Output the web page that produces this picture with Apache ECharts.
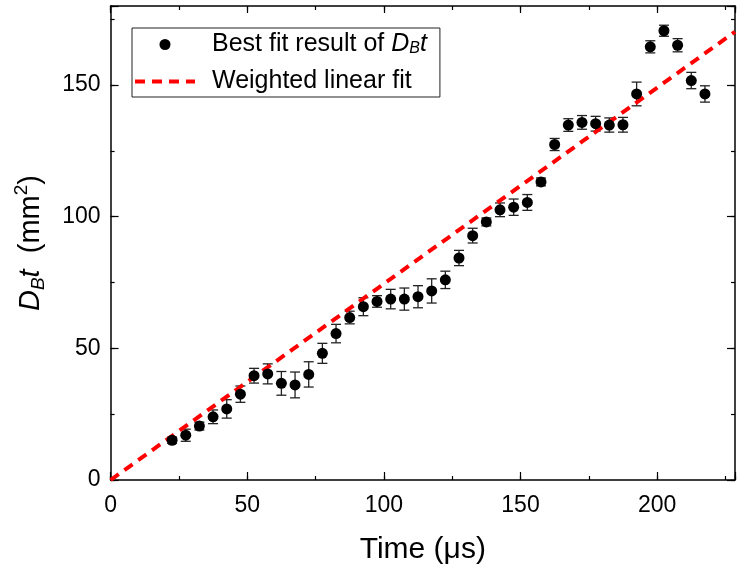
<!DOCTYPE html>
<html>
<head>
<meta charset="utf-8">
<script src="https://cdn.jsdelivr.net/npm/echarts@6/dist/echarts.min.js"></script>
<style>
html,body{margin:0;padding:0;background:#fff;}
#chart{width:738px;height:570px;}
</style>
</head>
<body>
<div id="chart"></div>
<script>
// ---- data ----
const timeUs = [22.5, 27.5, 32.5, 37.5, 42.5, 47.5, 52.5, 57.5, 62.5, 67.5,
                72.5, 77.5, 82.5, 87.5, 92.5, 97.5, 102.5, 107.5, 112.5, 117.5,
                122.5, 127.5, 132.5, 137.5, 142.5, 147.5, 152.5, 157.5, 162.5, 167.5,
                172.5, 177.5, 182.5, 187.5, 192.5, 197.5, 202.5, 207.5, 212.5, 217.5];
const dbt = [15.1, 17.0, 20.5, 24.0, 27.0, 32.6, 39.6, 40.3, 36.7, 36.1,
             40.1, 48.1, 55.6, 61.7, 65.8, 67.8, 68.7, 68.7, 69.6, 71.8,
             76.0, 84.3, 92.8, 98.0, 102.6, 103.6, 105.4, 113.2, 127.4, 134.8,
             135.8, 135.3, 134.8, 134.9, 146.6, 164.5, 170.6, 165.1, 151.7, 146.6];
const dbtErr = [1.2, 2.3, 1.5, 2.6, 3.5, 3.1, 2.8, 3.8, 4.5, 4.9,
                4.8, 3.8, 3.5, 2.4, 3.4, 2.2, 3.7, 4.2, 4.2, 4.6,
                3.3, 2.9, 2.8, 1.5, 2.6, 3.1, 3.0, 1.5, 2.3, 2.4,
                2.6, 2.8, 2.7, 2.8, 4.5, 2.3, 2.1, 2.5, 3.1, 3.1];
const fitX = [0, 228.5];
const fitY = [0, 170.2];
const xTicksMajor = [0, 50, 100, 150, 200];
const yTicksMajor = [0, 50, 100, 150];
const seriesNames = ['Best fit result of D_B t', 'Weighted linear fit'];

// ---- chart ----
const FONT = '"Liberation Sans", Arial, Helvetica, sans-serif';
const chart = echarts.init(document.getElementById('chart'), null, {renderer: 'canvas'});

const scatterData = timeUs.map((x, i) => [x, dbt[i]]);
const errData = timeUs.map((x, i) => [x, dbt[i], dbtErr[i]]);
const fitData = fitX.map((x, i) => [x, fitY[i]]);

const XMAX = 228.5, YMAX = 180;

function mkLine(show) {
  return {show: show, onZero: false, lineStyle: {color: '#000', width: 1.5}};
}
function xAx(pos, interval, len, labels, showLine, extra) {
  return Object.assign({
    type: 'value', position: pos, min: 0, max: XMAX, interval: interval,
    axisLine: mkLine(showLine),
    axisTick: {show: true, inside: true, length: len, lineStyle: {color: '#000', width: 1.2}},
    axisLabel: labels ? {
      show: true, fontSize: 23, color: '#000', fontFamily: FONT, margin: 14,
      formatter: v => (xTicksMajor.indexOf(v) >= 0 ? String(v) : '')
    } : {show: false},
    splitLine: {show: false}
  }, extra || {});
}
function yAx(pos, interval, len, labels, showLine, extra) {
  return Object.assign({
    type: 'value', position: pos, min: 0, max: YMAX, interval: interval,
    axisLine: mkLine(showLine),
    axisTick: {show: true, inside: true, length: len, lineStyle: {color: '#000', width: 1.2}},
    axisLabel: labels ? {
      show: true, fontSize: 23, color: '#000', fontFamily: FONT, margin: 10,
      formatter: v => (yTicksMajor.indexOf(v) >= 0 ? String(v) : '')
    } : {show: false},
    splitLine: {show: false}
  }, extra || {});
}

const richLegend = {
  n: {fontSize: 25, fontFamily: FONT, color: '#000'},
  i: {fontSize: 25, fontFamily: FONT, fontStyle: 'italic', color: '#000'},
  sub: {fontSize: 16, fontFamily: FONT, fontStyle: 'italic', color: '#000', lineHeight: 12, verticalAlign: 'bottom'}
};

const option = {
  backgroundColor: '#fff',
  animation: false,
  grid: {left: 110.6, top: 6, width: 630, bottom: 87.5, containLabel: false},
  xAxis: [
    xAx('bottom', 50, 8, true, true, {
      name: 'Time (\u03BCs)', nameLocation: 'middle', nameGap: 55,
      nameTextStyle: {fontSize: 30, fontFamily: FONT, color: '#000'}
    }),
    xAx('bottom', 25, 4, false, false),
    xAx('top', 50, 7, false, true),
    xAx('top', 25, 4, false, false)
  ],
  yAxis: [
    yAx('left', 50, 8, true, true, {
      name: '{i|D}{sub|B}{i|t}{n|  (mm}{sup|2}{n|)}',
      nameLocation: 'middle', nameRotate: 90, nameGap: 62,
      nameTextStyle: {
        fontSize: 29, fontFamily: FONT, color: '#000',
        rich: {
          n: {fontSize: 29, fontFamily: FONT, color: '#000', lineHeight: 36},
          i: {fontSize: 29, fontFamily: FONT, fontStyle: 'italic', color: '#000', lineHeight: 36},
          sub: {fontSize: 19, fontFamily: FONT, fontStyle: 'italic', color: '#000', lineHeight: 14, verticalAlign: 'bottom'},
          sup: {fontSize: 19, fontFamily: FONT, color: '#000', lineHeight: 14, verticalAlign: 'top'}
        }
      }
    }),
    yAx('left', 25, 4, false, false),
    yAx('right', 50, 8, false, true),
    yAx('right', 25, 4, false, false)
  ],
  legend: {
    orient: 'vertical', left: 132, top: 28,
    padding: [4, 13, 3, 1],
    borderColor: '#222', borderWidth: 1,
    itemWidth: 60, itemHeight: 11, itemGap: 12,
    selectedMode: false,
    textStyle: {fontSize: 25, fontFamily: FONT, color: '#000', padding: [0, 0, 0, 12], rich: richLegend},
    formatter: function (name) {
      if (name === seriesNames[0]) return '{n|Best fit result of }{i|D}{sub|B}{i|t}';
      return '{n|' + name + '}';
    },
    data: [
      {name: seriesNames[0], icon: 'circle', itemStyle: {color: '#000'}},
      {name: seriesNames[1], itemStyle: {opacity: 0, color: 'rgba(0,0,0,0)'},
       lineStyle: {color: '#ff0000', width: 4, type: [10, 7], opacity: 1}}
    ]
  },
  series: [
    {
      type: 'custom', name: 'err', xAxisIndex: 0, yAxisIndex: 0, z: 2,
      data: errData,
      renderItem: function (params, api) {
        const x = api.value(0), y = api.value(1), e = api.value(2);
        const top = api.coord([x, y + e]);
        const bot = api.coord([x, y - e]);
        const cw = 5;
        const st = {stroke: '#222', lineWidth: 1.3};
        return {
          type: 'group',
          children: [
            {type: 'line', shape: {x1: top[0], y1: top[1], x2: bot[0], y2: bot[1]}, style: st},
            {type: 'line', shape: {x1: top[0] - cw, y1: top[1], x2: top[0] + cw, y2: top[1]}, style: st},
            {type: 'line', shape: {x1: bot[0] - cw, y1: bot[1], x2: bot[0] + cw, y2: bot[1]}, style: st}
          ]
        };
      }
    },
    {
      type: 'line', name: seriesNames[1], xAxisIndex: 0, yAxisIndex: 0, z: 3,
      data: fitData, symbol: 'none', showSymbol: false,
      lineStyle: {color: '#ff0000', width: 4, type: [10, 7]},
      itemStyle: {color: '#ff0000'}
    },
    {
      type: 'scatter', name: seriesNames[0], xAxisIndex: 0, yAxisIndex: 0, z: 4,
      data: scatterData, symbol: 'circle', symbolSize: 11,
      itemStyle: {color: '#000', opacity: 1}
    }
  ]
};
chart.setOption(option);
</script>
</body>
</html>
